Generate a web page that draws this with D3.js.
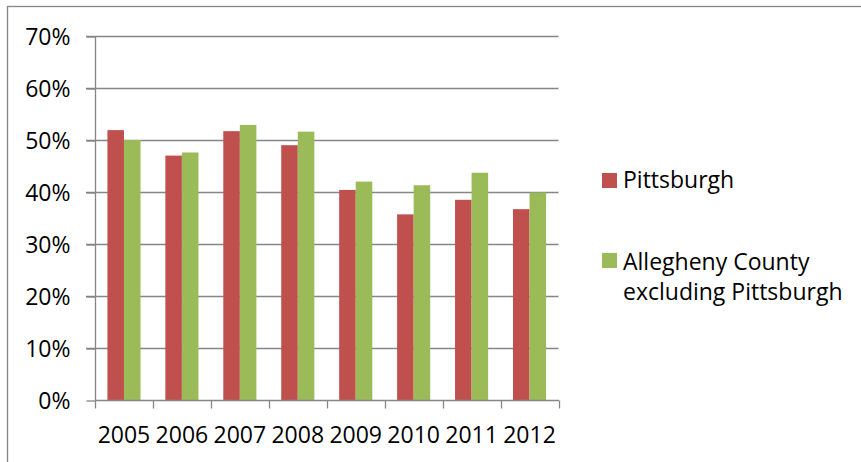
<!DOCTYPE html>
<html>
<head>
<meta charset="utf-8">
<script src="https://cdn.jsdelivr.net/npm/d3@7"></script>
<style>
  html, body { margin: 0; padding: 0; background: #fff; }
  svg { display: block; }
  text { font-family: "Open Sans", "Noto Sans", sans-serif; fill: #000; }
</style>
</head>
<body>
<svg id="chart" width="861" height="462"></svg>
<script>
const years = ["2005", "2006", "2007", "2008", "2009", "2010", "2011", "2012"];
const seriesNames = ["Pittsburgh", "Allegheny County excluding Pittsburgh"];
const pittsburgh = [51.9, 47.0, 51.7, 49.0, 40.4, 35.7, 38.5, 36.7];
const allegheny = [50.0, 47.6, 52.9, 51.6, 42.0, 41.3, 43.7, 39.9];
const yTicks = [0, 10, 20, 30, 40, 50, 60, 70];
const colors = ["#C0504D", "#9BBB59"];

const FS = "23px";
const svg = d3.select("#chart");
const plot = { left: 95, right: 558.5, top: 36, bottom: 400 };

// outer border (top and left visible)
svg.append("rect")
  .attr("x", 7.5).attr("y", 6.5)
  .attr("width", 900).attr("height", 500)
  .attr("fill", "none").attr("stroke", "#868686").attr("stroke-width", 1.3);

const x = d3.scaleBand().domain(years).range([plot.left, plot.right]).paddingInner(0).paddingOuter(0);
const y = d3.scaleLinear().domain([0, 70]).range([plot.bottom, plot.top]);
const bw = x.bandwidth() / 3.5;
const xs = d3.scaleBand().domain([0, 1]).range([bw * 0.75, bw * 2.75]);

// gridlines
svg.append("g").selectAll("line").data(yTicks.filter(d => d > 0)).join("line")
  .attr("x1", plot.left - 9).attr("x2", plot.right)
  .attr("y1", d => Math.round(y(d)) + 0.5).attr("y2", d => Math.round(y(d)) + 0.5)
  .attr("stroke", "#868686").attr("stroke-width", 1.3);

// bars
const data = [pittsburgh, allegheny];
data.forEach((vals, si) => {
  svg.append("g").selectAll("rect").data(vals).join("rect")
    .attr("x", (d, i) => x(years[i]) + xs(si))
    .attr("width", xs.bandwidth())
    .attr("y", d => y(d))
    .attr("height", d => y(0) - y(d))
    .attr("fill", colors[si]);
});

// y axis
const yAxis = d3.axisLeft(y).tickValues(yTicks).tickFormat(d => d + "%").tickSize(9).tickPadding(16);
const gy = svg.append("g").attr("transform", `translate(${plot.left + 0.5},0.5)`).call(yAxis);
gy.select(".domain").attr("stroke", "#868686").attr("stroke-width", 1.3).attr("d", `M0,${plot.top}V${plot.bottom}`);
gy.selectAll(".tick line").attr("stroke", "#868686").attr("stroke-width", 1.3);
gy.selectAll(".tick text").style("font-size", FS).style("font-family", "'Open Sans', sans-serif").attr("dy", "0.36em").attr("fill", "#000");

// x axis
const gx = svg.append("g").attr("transform", `translate(0,${plot.bottom + 0.5})`);
gx.append("line").attr("x1", plot.left).attr("x2", plot.right + 0.5).attr("y1", 0).attr("y2", 0)
  .attr("stroke", "#868686").attr("stroke-width", 1.3);
const boundaries = years.map(d => x(d)).concat([plot.right]);
gx.selectAll("line.tk").data(boundaries).join("line").attr("class", "tk")
  .attr("x1", d => Math.round(d) + 0.5).attr("x2", d => Math.round(d) + 0.5)
  .attr("y1", 0).attr("y2", 8)
  .attr("stroke", "#868686").attr("stroke-width", 1.3);
gx.selectAll("text").data(years).join("text")
  .attr("x", d => x(d) + x.bandwidth() / 2)
  .attr("y", 42)
  .attr("text-anchor", "middle")
  .style("font-size", FS)
  .text(d => d);

// legend
const legend = svg.append("g");
const legendItems = [
  { color: colors[0], lines: ["Pittsburgh"], sq: 173, base: 188 },
  { color: colors[1], lines: ["Allegheny County", "excluding Pittsburgh"], sq: 253, base: 270 }
];
legendItems.forEach(it => {
  legend.append("rect").attr("x", 602).attr("y", it.sq).attr("width", 15).attr("height", 15).attr("fill", it.color);
  const t = legend.append("text").attr("x", 623).attr("y", it.base).style("font-size", FS);
  it.lines.forEach((l, i) => t.append("tspan").attr("x", 623).attr("dy", i === 0 ? 0 : 30).text(l));
});
</script>
</body>
</html>
